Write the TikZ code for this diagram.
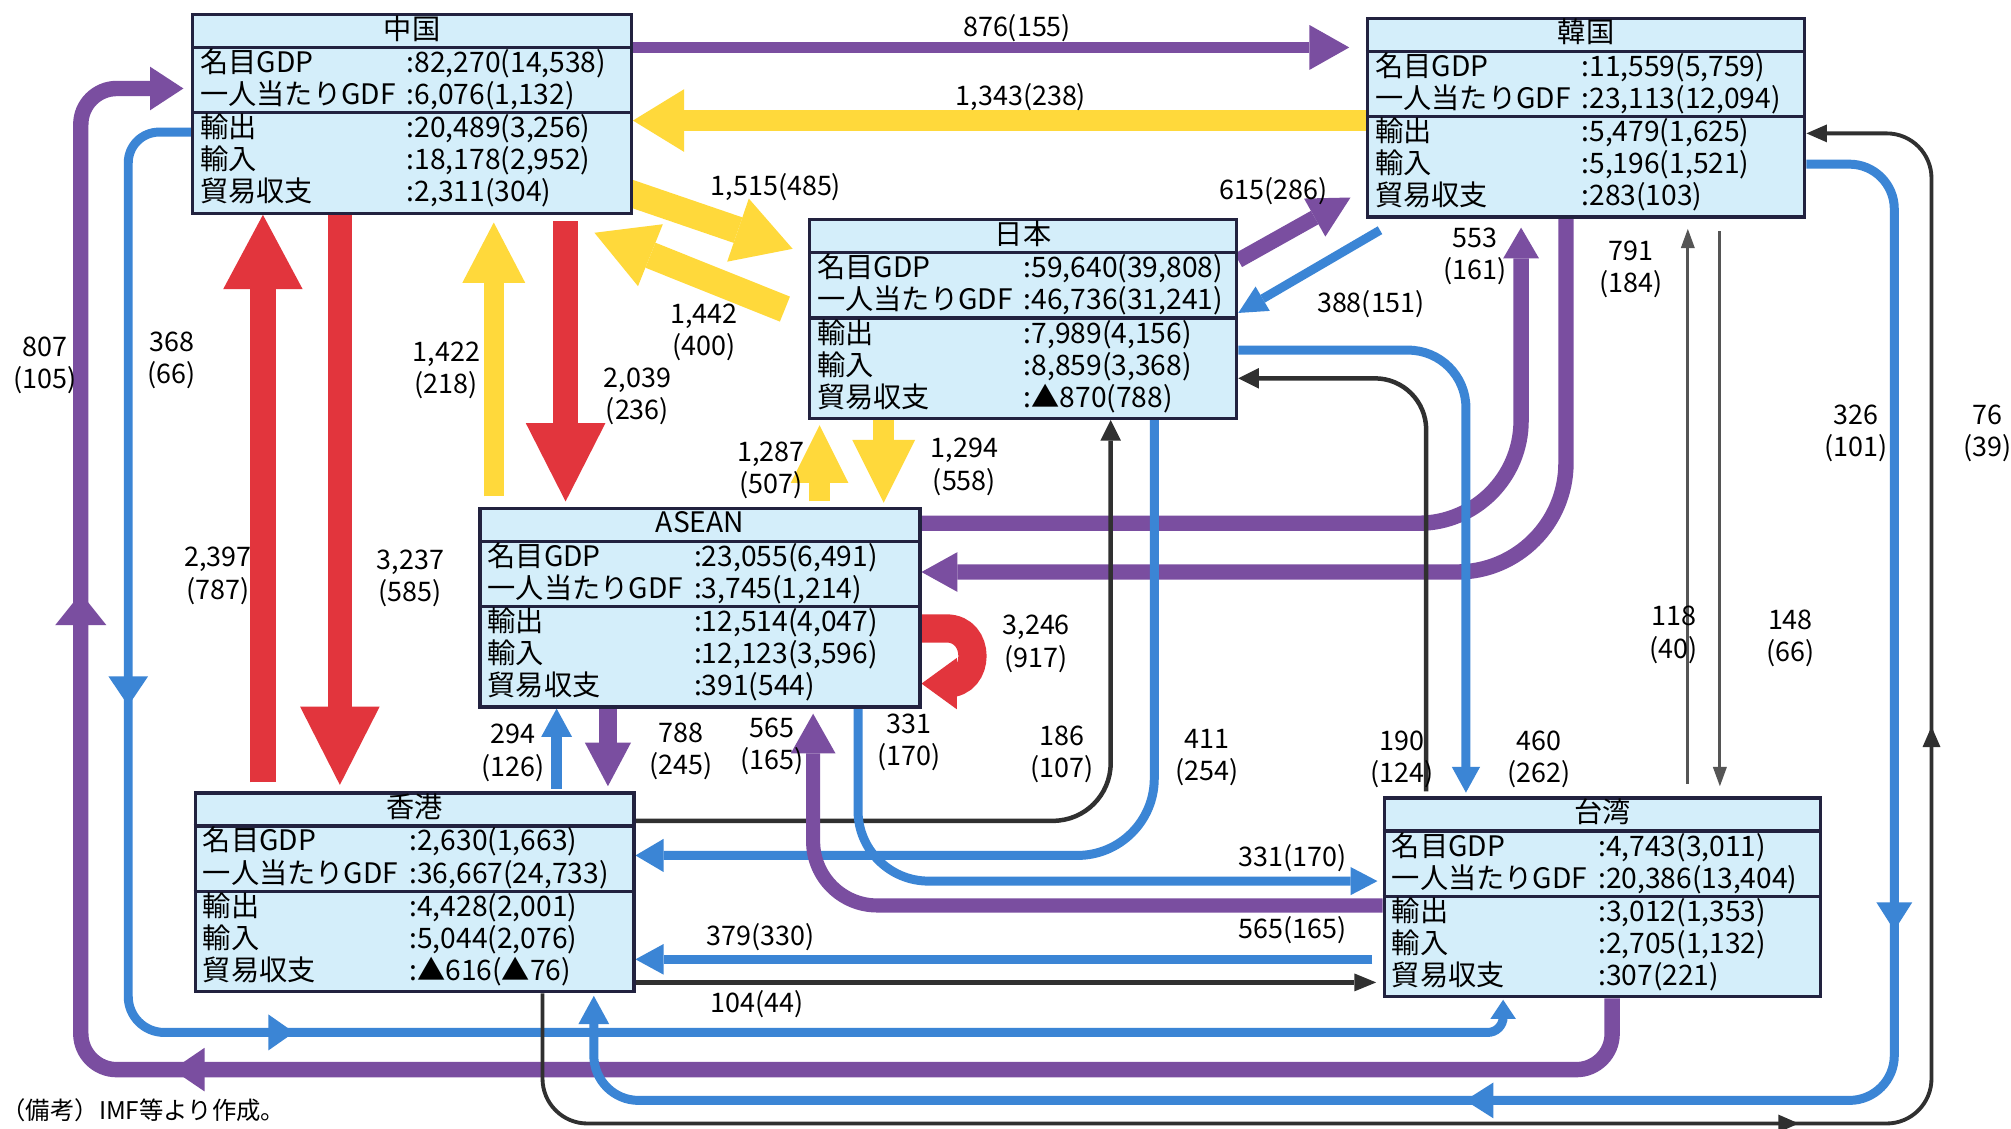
\documentclass[tikz,border=0pt]{standalone}
\usepackage{fontspec}
\setmainfont{Noto Sans CJK JP}
\usetikzlibrary{arrows.meta,decorations.markings,calc}
\pgfdeclarelayer{bg}
\pgfsetlayers{bg,main}
\definecolor{boxfill}{HTML}{D4EEFA}
\definecolor{boxline}{HTML}{22223F}
\definecolor{purp}{HTML}{7A4EA0}
\definecolor{yel}{HTML}{FFD93B}
\definecolor{redc}{HTML}{E2353D}
\definecolor{bluc}{HTML}{3B85D5}
\definecolor{blk}{HTML}{303030}
\definecolor{gry}{HTML}{555555}
\tikzset{
  cbox/.style={draw=boxline, line width=2.5pt, fill=boxfill, rectangle, inner sep=0pt, minimum height=155pt, anchor=north west},
  sepline/.style={draw=boxline, line width=2.5pt},
  btxt/.style={inner sep=0pt, font=\fontsize{22}{22}\selectfont, text height=17pt, text depth=4pt},
  lbl/.style={inner sep=0pt, font=\fontsize{21}{25}\selectfont, align=center},
  hd/.style 2 args={-{Triangle[width=#1,length=#2,line width=0pt]}},
}
\newcommand\ctry[9]{%
  \node[cbox, minimum width=#3] (#1) at (#2) {};
  \draw[sepline] ([yshift=-27pt]#1.north west) -- ([yshift=-27pt]#1.north east);
  \draw[sepline] ([yshift=-78pt]#1.north west) -- ([yshift=-78pt]#1.north east);
  \node[btxt] (#1-t) at ([yshift=-14pt]#1.north) {#4};
  \node[btxt, anchor=west] (#1-a1) at ([xshift=7pt,yshift=-40pt]#1.north west) {名目GDP};
  \node[btxt, anchor=west] (#1-b1) at ([xshift=168pt,yshift=-40pt]#1.north west) {:#5};
  \node[btxt, anchor=west] (#1-a2) at ([xshift=7pt,yshift=-65pt]#1.north west) {一人当たりGDF};
  \node[btxt, anchor=west] (#1-b2) at ([xshift=168pt,yshift=-65pt]#1.north west) {:#6};
  \node[btxt, anchor=west] (#1-a3) at ([xshift=7pt,yshift=-91pt]#1.north west) {輸出};
  \node[btxt, anchor=west] (#1-b3) at ([xshift=168pt,yshift=-91pt]#1.north west) {:#7};
  \node[btxt, anchor=west] (#1-a4) at ([xshift=7pt,yshift=-116pt]#1.north west) {輸入};
  \node[btxt, anchor=west] (#1-b4) at ([xshift=168pt,yshift=-116pt]#1.north west) {:#8};
  \node[btxt, anchor=west] (#1-a5) at ([xshift=7pt,yshift=-141pt]#1.north west) {貿易収支};
  \node[btxt, anchor=west] (#1-b5) at ([xshift=168pt,yshift=-141pt]#1.north west) {:#9};
}
\begin{document}
\begin{tikzpicture}[x=1pt,y=-1pt]
\useasboundingbox (0,0) rectangle (1568,880);

\ctry{cn}{149,10}{342pt}{中国}{82,270(14,538)}{6,076(1,132)}{20,489(3,256)}{18,178(2,952)}{2,311(304)}
\ctry{kr}{1065,13}{341pt}{韓国}{11,559(5,759)}{23,113(12,094)}{5,479(1,625)}{5,196(1,521)}{283(103)}
\ctry{jp}{630,170}{333pt}{日本}{59,640(39,808)}{46,736(31,241)}{7,989(4,156)}{8,859(3,368)}{▲870(788)}
\ctry{as}{373,395}{343pt}{ASEAN}{23,055(6,491)}{3,745(1,214)}{12,514(4,047)}{12,123(3,596)}{391(544)}
\ctry{hk}{151,617}{342pt}{香港}{2,630(1,663)}{36,667(24,733)}{4,428(2,001)}{5,044(2,076)}{▲616(▲76)}
\ctry{tw}{1078,621}{340pt}{台湾}{4,743(3,011)}{20,386(13,404)}{3,012(1,353)}{2,705(1,132)}{307(221)}

\begin{pgfonlayer}{bg}
\fill[white] (0,0) rectangle (1568,880);

% China <-> Korea
\draw[purp, line width=9pt, hd={35pt}{31pt}] (cn.east |- 0,37) -- ($(kr.west |- 0,37)+(-13,0)$);
\draw[yel, line width=16pt, hd={49pt}{40pt}] (kr.west |- 0,94) -- (cn.east |- 0,94);

% China <-> Japan
\draw[yel, line width=21pt, hd={52pt}{45pt}] ($(cn.east |- 0,150)+(-4,0)$) -- ($(jp.west |- 0,194)+(-12,0)$);
\draw[yel, line width=21pt, hd={52pt}{47pt}] ($(jp.west |- 0,241)+(-18,0)$) -- ($(cn.south east)+(-30,14)$);

% Japan <-> Korea
\draw[purp, line width=12pt, hd={34pt}{32pt}] (jp.east |- 0,203) -- ($(kr.west |- 0,154)+(-12,0)$);
\draw[bluc, line width=7pt, hd={22pt}{22pt}] ($(kr.south west)+(11,9)$) -- (jp.east |- 0,244);

% China <-> HK
\draw[redc, line width=20pt, hd={62pt}{58pt}] ($(hk.north -| 205,0)+(0,-7)$) -- (cn.south -| 205,0);
\draw[redc, line width=19pt, hd={62pt}{61pt}] (cn.south -| 265,0) -- ($(hk.north -| 265,0)+(0,-5)$);

% China <-> ASEAN
\draw[yel, line width=16pt, hd={49pt}{47pt}] ($(as.north -| 385,0)+(0,-8)$) -- ($(cn.south -| 385,0)+(0,6)$);
\draw[redc, line width=20pt, hd={62pt}{61pt}] ($(cn.south -| 441,0)+(0,5)$) -- ($(as.north -| 441,0)+(0,-4)$);

% ASEAN <-> Japan
\draw[yel, line width=16pt, hd={45pt}{45pt}] ($(as.north -| 639,0)+(0,-4)$) -- ($(jp.south -| 639,0)+(0,4)$);
\draw[yel, line width=16pt, hd={49pt}{49pt}] (jp.south -| 689,0) -- ($(as.north -| 689,0)+(0,-3)$);

% ASEAN <-> Korea
\draw[purp, line width=12pt, rounded corners=80pt, hd={28pt}{24pt}] (as.east |- 0,408) -- (1186,408) -- ($(kr.south -| 1186,0)+(0,7)$);
\draw[purp, line width=12pt, rounded corners=85pt, hd={31pt}{28pt}] (kr.south -| 1221,0) -- (1221,446) -- (as.east |- 0,446);

% ASEAN self loop
\draw[redc, line width=22pt] (as.east |- 0,490) -- (738,490) .. controls (765,490) and (765,533) .. (738,533);
\fill[redc] (as.east |- 0,533) -- (746,513) -- (746,553) -- cycle;

% HK <-> ASEAN
\draw[bluc, line width=8pt, hd={24pt}{22pt}] ($(hk.north -| 434,0)+(0,-2)$) -- (as.south -| 434,0);
\draw[purp, line width=14pt, hd={36pt}{34pt}] (as.south -| 474,0) -- ($(hk.north -| 474,0)+(0,-4)$);

% HK <-> Japan
\draw[blk, line width=3.5pt, rounded corners=45pt, hd={16pt}{16pt}] (hk.east |- 0,640) -- (866,640) -- (jp.south -| 866,0);
\draw[bluc, line width=7pt, rounded corners=60pt, hd={26pt}{22pt}] (jp.south -| 900,0) -- (900,667) -- (hk.east |- 0,667);

% ASEAN <-> Taiwan
\draw[bluc, line width=7pt, rounded corners=55pt, hd={22pt}{21pt}] (as.south -| 669,0) -- (669,687) -- ($(tw.west |- 0,687)+(-4,0)$);
\draw[purp, line width=11pt, rounded corners=50pt, hd={35pt}{31pt}] (tw.west |- 0,706) -- (634,706) -- ($(as.south -| 634,0)+(0,4)$);

% HK <-> Taiwan
\draw[bluc, line width=7pt, hd={24pt}{22pt}] ($(tw.west |- 0,748)+(-8,0)$) -- (hk.east |- 0,748);
\draw[blk, line width=3.5pt, hd={14pt}{17pt}] (hk.east |- 0,766) -- ($(tw.west |- 0,766)+(-5,0)$);

% Japan <-> Taiwan
\draw[bluc, line width=7pt, rounded corners=45pt, hd={22pt}{20pt}] (jp.east |- 0,273) -- (1143,273) -- ($(tw.north -| 1143,0)+(0,-3)$);
\draw[blk, line width=3.5pt, rounded corners=40pt, hd={16pt}{16pt}] ($(tw.north -| 1112,0)+(0,-4)$) -- (1112,295) -- (jp.east |- 0,295);

% Korea <-> Taiwan
\draw[gry, line width=2.5pt, hd={11pt}{15pt}] ($(tw.north -| 1316,0)+(0,-10)$) -- ($(kr.south -| 1316,0)+(0,8)$);
\draw[gry, line width=2.5pt, hd={11pt}{15pt}] ($(kr.south -| 1341,0)+(0,10)$) -- ($(tw.north -| 1341,0)+(0,-8)$);

% China -> Taiwan (368)
\draw[bluc, line width=7pt, hd={20pt}{15pt},
  postaction={decorate}, decoration={markings,
    mark=at position 486pt with {\arrow{Triangle[width=31pt,length=23pt,line width=0pt]}},
    mark=at position 858pt with {\arrow{Triangle[width=28pt,length=20pt,line width=0pt]}}}]
  (cn.west |- 0,103) [rounded corners=24pt] -- (100,103) [rounded corners=28pt] -- (100,805) [rounded corners=12pt] -- (1172,805) -- ($(tw.south -| 1172,0)+(0,1)$);

% Taiwan -> China (807)
\draw[purp, line width=12pt, rounded corners=28pt, hd={34pt}{26pt},
  postaction={decorate}, decoration={markings,
    mark=at position 1166pt with {\arrow{Triangle[width=34pt,length=25pt,line width=0pt]}},
    mark=at position 1597pt with {\arrow{Triangle[width=40pt,length=25pt,line width=0pt]}}}]
  (tw.south -| 1257,0) -- (1257,834) -- (63,834) -- (63,69) -- ($(cn.west |- 0,69)+(-6,0)$);

% Korea -> HK (326)
\draw[bluc, line width=7pt, rounded corners=35pt, hd={24pt}{22pt},
  postaction={decorate}, decoration={markings,
    mark=at position 651pt with {\arrow{Triangle[width=28pt,length=22pt,line width=0pt]}},
    mark=at position 1103pt with {\arrow{Triangle[width=28pt,length=22pt,line width=0pt]}}}]
  (kr.east |- 0,128) -- (1477,128) -- (1477,858) -- (463,858) -- ($(hk.south -| 463,0)+(0,2)$);

% HK -> Korea (76)
\draw[blk, line width=3pt, rounded corners=35pt, hd={14pt}{16pt},
  postaction={decorate}, decoration={markings,
    mark=at position 1066pt with {\arrow{Triangle[width=14pt,length=16pt,line width=0pt]}},
    mark=at position 1464pt with {\arrow{Triangle[width=14pt,length=16pt,line width=0pt]}}}]
  (hk.south -| 423,0) -- (423,876) -- (1506,876) -- (1506,104) -- (kr.east |- 0,104);
\end{pgfonlayer}

% labels
\node[lbl] (l876) at (793,22) {876(155)};
\node[lbl] (l1343) at (796,76) {1,343(238)};
\node[lbl] (l1515) at (605,146) {1,515(485)};
\node[lbl] (l615) at (993,149) {615(286)};
\node[lbl] (l553) at (1150,200) {553\\(161)};
\node[lbl] (l791) at (1272,210) {791\\(184)};
\node[lbl] (l388) at (1069,237) {388(151)};
\node[lbl] (l1442) at (549,259) {1,442\\(400)};
\node[lbl] (l807) at (35,285) {807\\(105)};
\node[lbl] (l368) at (134,281) {368\\(66)};
\node[lbl] (l1422) at (348,289) {1,422\\(218)};
\node[lbl] (l2039) at (497,309) {2,039\\(236)};
\node[lbl] (l326) at (1447,338) {326\\(101)};
\node[lbl] (l76) at (1550,338) {76\\(39)};
\node[lbl] (l1287) at (601,367) {1,287\\(507)};
\node[lbl] (l1294) at (752,364) {1,294\\(558)};
\node[lbl] (l2397) at (170,449) {2,397\\(787)};
\node[lbl] (l3237) at (320,451) {3,237\\(585)};
\node[lbl] (l3246) at (808,502) {3,246\\(917)};
\node[lbl] (l118) at (1305,495) {118\\(40)};
\node[lbl] (l148) at (1396,498) {148\\(66)};
\node[lbl] (l294) at (400,587) {294\\(126)};
\node[lbl] (l788) at (531,586) {788\\(245)};
\node[lbl] (l565) at (602,582) {565\\(165)};
\node[lbl] (l331) at (709,579) {331\\(170)};
\node[lbl] (l186) at (828,588) {186\\(107)};
\node[lbl] (l411) at (941,591) {411\\(254)};
\node[lbl] (l190) at (1093,592) {190\\(124)};
\node[lbl] (l460) at (1200,592) {460\\(262)};
\node[lbl] (l331b) at (1008,669) {331(170)};
\node[lbl] (l565b) at (1008,725) {565(165)};
\node[lbl] (l379) at (593,731) {379(330)};
\node[lbl] (l104) at (590,783) {104(44)};
\node[inner sep=0pt, anchor=west, font=\fontsize{19}{19}\selectfont] (note) at (1,866) {（備考）IMF等より作成。};
\end{tikzpicture}
\end{document}
